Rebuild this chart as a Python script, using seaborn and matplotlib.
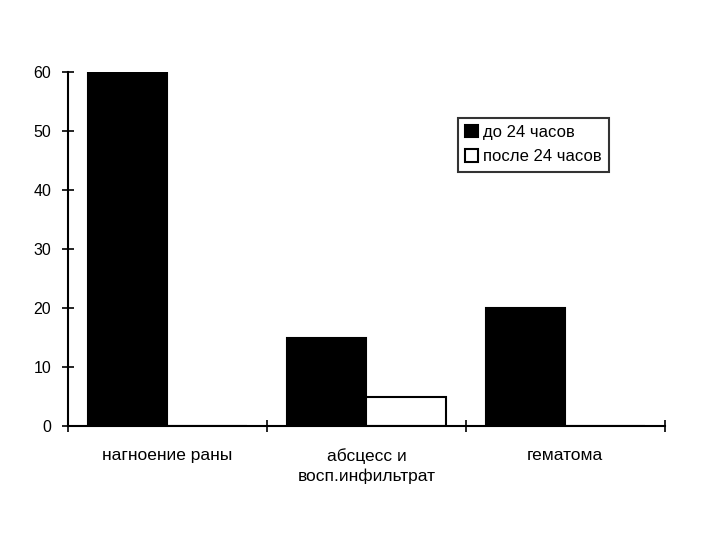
import pandas as pd
import numpy as np
import matplotlib
matplotlib.use("Agg")
import matplotlib.pyplot as plt
import seaborn as sns

# data
categories = ["нагноение раны", "абсцесс и\nвосп.инфильтрат", "гематома"]
before_24h = [60, 15, 20]
after_24h = [0, 5, 0]
series = ["до 24 часов", "после 24 часов"]

df = pd.DataFrame({
    "category": categories * 2,
    "value": before_24h + after_24h,
    "group": [series[0]] * 3 + [series[1]] * 3,
})

sns.set_style("white")
plt.rcParams["font.family"] = ["Liberation Sans", "DejaVu Sans"]
plt.rcParams["text.color"] = "black"
plt.rcParams["xtick.color"] = "black"
plt.rcParams["ytick.color"] = "black"

fig = plt.figure(figsize=(7.2, 5.4), dpi=100)
ax = fig.add_axes([0.0944, 0.2111, 0.829, 0.6556])

sns.barplot(data=df, x="category", y="value", hue="group",
            palette=["black", "white"], edgecolor="black", linewidth=1.5,
            width=0.8, errorbar=None, ax=ax)

ax.set_xlim(-0.5, 2.5)
ax.set_ylim(0, 60)
ax.set_yticks(np.arange(0, 61, 10))
ax.set_xlabel("")
ax.set_ylabel("")

sns.despine(ax=ax)
for s in ["left", "bottom"]:
    ax.spines[s].set_color("black")
    ax.spines[s].set_linewidth(1.5)

ax.tick_params(axis="y", direction="inout", length=8, width=1.2, labelsize=11.5, pad=8, left=True)
ax.set_xticks([-0.5, 0.5, 1.5, 2.5], minor=True)
ax.tick_params(axis="x", which="minor", direction="inout", length=8, width=1.2, bottom=True)
ax.tick_params(axis="x", which="major", length=0, labelsize=12.5, pad=16)
for lbl in ax.get_xticklabels():
    lbl.set_linespacing(1.35)

leg = ax.legend(loc="upper left", bbox_to_anchor=(0.653, 0.871), frameon=True,
                fancybox=False, fontsize=12, handlelength=0.75, handleheight=0.75,
                handletextpad=0.3, borderpad=0.45, labelspacing=0.55,
                borderaxespad=0)
leg.get_frame().set_edgecolor("black")
leg.get_frame().set_linewidth(1.5)

fig.savefig("out.png", dpi=100)
